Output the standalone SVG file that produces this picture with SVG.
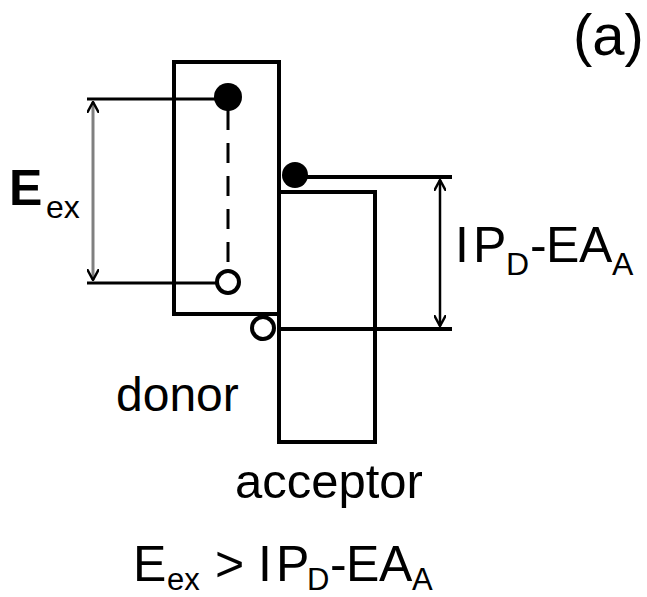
<svg xmlns="http://www.w3.org/2000/svg" width="647" height="597" viewBox="0 0 647 597">
<style>
.ln{stroke:#000;stroke-width:4;fill:none}
.thin{stroke:#000;stroke-width:3;fill:none}
.t{font-family:"Liberation Sans",Arial,sans-serif;fill:#000}
</style>
<defs>
<marker id="ah" viewBox="0 0 12 12" refX="11" refY="6" markerWidth="12" markerHeight="12" markerUnits="userSpaceOnUse" orient="auto-start-reverse">
<path d="M0,0 L11,6 L0,12" fill="none" stroke="#000" stroke-width="2.5"/>
</marker>
</defs>
<rect width="647" height="597" fill="#fff"/>
<g id="donor">
<rect x="174" y="62" width="105" height="252" class="ln"/>
</g>
<g id="acceptor">
<polyline points="279,192 375,192 375,442 279,442 279,192" class="ln"/>
</g>
<g id="connectors">
<line x1="87" y1="99" x2="228" y2="99" class="thin"/>
<line x1="87" y1="283" x2="228" y2="283" class="thin"/>
<line x1="228" y1="110" x2="228" y2="272" stroke="#000" stroke-width="3" stroke-dasharray="20 13"/>
<line x1="93" y1="102" x2="93" y2="280" stroke="#808080" stroke-width="3" marker-start="url(#ah)" marker-end="url(#ah)"/>
<line x1="295" y1="177" x2="452" y2="177" class="ln"/>
<line x1="279" y1="329" x2="452" y2="329" class="ln"/>
<line x1="440" y1="180" x2="440" y2="326" stroke="#000" stroke-width="2.5" marker-start="url(#ah)" marker-end="url(#ah)"/>
</g>
<g id="electron-donor">
<circle cx="228" cy="97" r="14" fill="#000"/>
</g>
<g id="hole-donor">
<circle cx="228" cy="282" r="11" fill="#fff" stroke="#000" stroke-width="4"/>
</g>
<g id="electron-acceptor">
<circle cx="295" cy="175" r="13" fill="#000"/>
</g>
<g id="hole-interface">
<circle cx="263" cy="328" r="11" fill="#fff" stroke="#000" stroke-width="4"/>
</g>
<g id="labels">
<text class="t" x="573" y="55" font-size="58">(a)</text>
<text class="t" x="9" y="205" font-size="50" font-weight="bold">E</text>
<text class="t" x="46" y="218" font-size="32">ex</text>
<text class="t" x="455" y="262" font-size="50">I<tspan x="473">P</tspan><tspan x="506" y="275" font-size="32">D</tspan><tspan x="530" y="262">-</tspan><tspan x="546">E</tspan><tspan x="579">A</tspan><tspan x="612" y="275" font-size="32">A</tspan></text>
<text class="t" x="116" y="411" font-size="48">donor</text>
<text class="t" x="235" y="498" font-size="49">acceptor</text>
<text class="t" x="133" y="581" font-size="50">E<tspan x="167" y="590" font-size="31">ex</tspan><tspan x="215" y="581">&gt;</tspan><tspan x="258">I</tspan><tspan x="276">P</tspan><tspan x="307" y="590" font-size="31">D</tspan><tspan x="330" y="581">-</tspan><tspan x="346">E</tspan><tspan x="379">A</tspan><tspan x="412" y="590" font-size="31">A</tspan></text>
</g>
</svg>
